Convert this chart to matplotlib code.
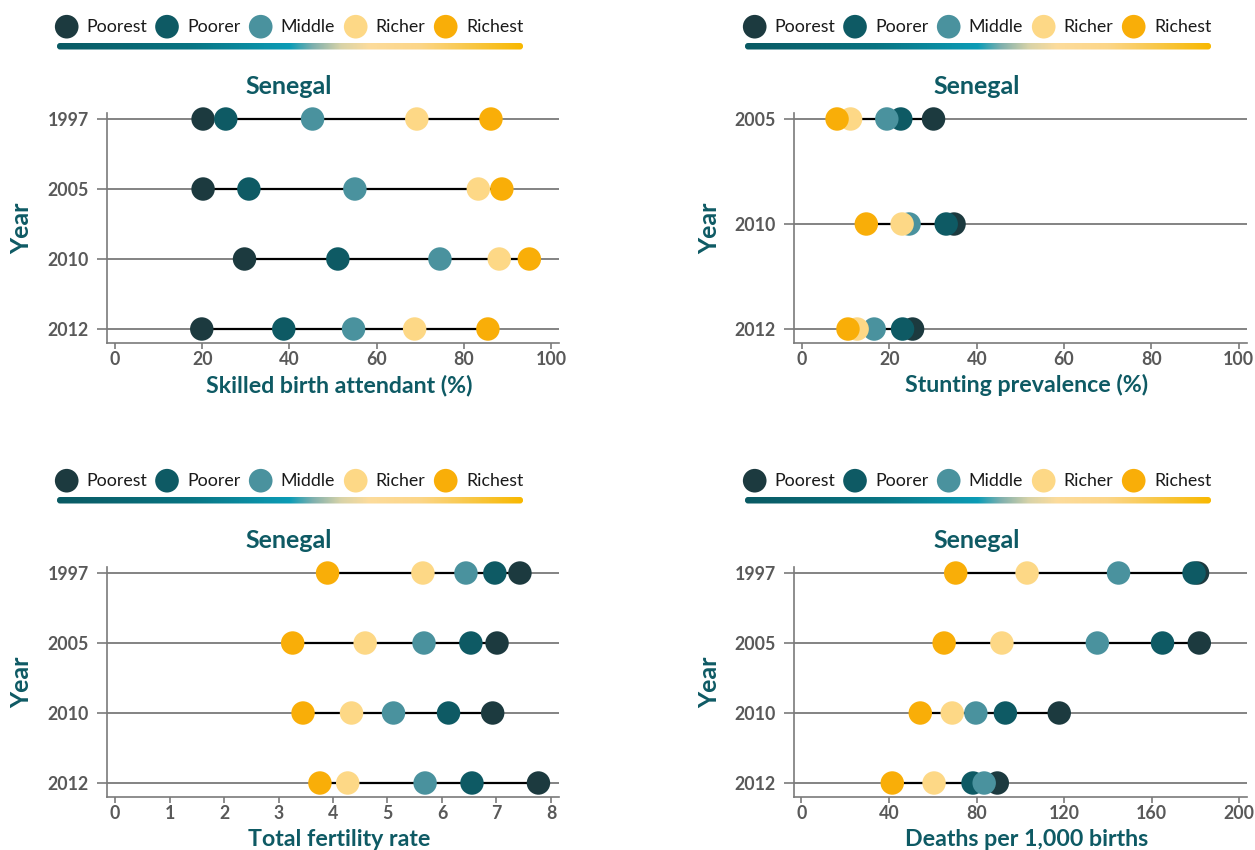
"""塞内加尔按财富五分位的哑铃点图（2x2 面板）。"""
import numpy as np
import matplotlib
matplotlib.use("Agg")
import matplotlib.pyplot as plt
from matplotlib.colors import LinearSegmentedColormap
from matplotlib.patches import FancyBboxPatch

plt.rcParams["font.family"] = ["Lato", "DejaVu Sans"]

W, H = 1255, 850
TEAL = "#0e5a64"
GREY = "#7a7a7a"
TICK_TEXT = "#595959"

QUINTILES = ["Poorest", "Poorer", "Middle", "Richer", "Richest"]
QUINTILE_COLORS = ["#1c3a3f", "#0e5a64", "#4a929e", "#fdd886", "#f9ae08"]

# 每行一个年份，列顺序同 QUINTILES
sba_years = ["1997", "2005", "2010", "2012"]
sba_values = [
    [20.2, 25.4, 45.3, 69.2, 86.2],
    [20.2, 30.7, 55.0, 83.3, 88.7],
    [29.7, 51.1, 74.5, 88.1, 95.0],
    [19.9, 38.7, 54.7, 68.7, 85.5],
]

stunt_years = ["2005", "2010", "2012"]
stunt_values = [
    [30.1, 22.6, 19.4, 11.1, 8.0],
    [34.8, 33.0, 24.5, 22.9, 14.7],
    [25.3, 23.0, 16.5, 12.6, 10.5],
]

tfr_years = ["1997", "2005", "2010", "2012"]
tfr_values = [
    [7.43, 6.97, 6.44, 5.65, 3.90],
    [7.01, 6.53, 5.67, 4.59, 3.26],
    [6.93, 6.12, 5.11, 4.34, 3.45],
    [7.77, 6.55, 5.69, 4.27, 3.76],
]

u5mr_years = ["1997", "2005", "2010", "2012"]
u5mr_values = [
    [181.0, 179.4, 144.9, 103.1, 70.5],
    [181.8, 165.0, 135.2, 91.6, 65.2],
    [117.8, 93.2, 79.7, 68.9, 54.3],
    [89.5, 78.4, 83.5, 60.6, 41.5],
]

GRADIENT = LinearSegmentedColormap.from_list("wealth", [
    (0.0, "#0a5a63"), (0.28, "#087482"), (0.5, "#0c9cb6"), (0.55, "#7fb0ae"),
    (0.61, "#d8d3a8"), (0.67, "#fcdc9c"), (0.78, "#fcd688"), (0.9, "#f8c640"),
    (1.0, "#f8b800"),
])


def px_axes(fig, left, top, right, bottom):
    return fig.add_axes([left / W, 1 - bottom / H, (right - left) / W, (bottom - top) / H])


def draw_panel(ax, years, values, xlim, xticks, ylim):
    ypos = np.arange(len(years))
    for y, row in zip(ypos, values):
        ax.axhline(y, color=GREY, lw=1.3, zorder=1)
        ax.plot([min(row), max(row)], [y, y], color="black", lw=1.6, zorder=2)
        for q, v in enumerate(row):
            ax.scatter(v, y, s=285, color=QUINTILE_COLORS[q], edgecolors="none",
                       zorder=3 + q, clip_on=False)
    ax.set_xlim(xlim)
    ax.set_ylim(ylim)
    ax.set_xticks(xticks)
    ax.set_yticks(ypos, years)
    for s in ("top", "right"):
        ax.spines[s].set_visible(False)
    for s in ("left", "bottom"):
        ax.spines[s].set_color(GREY)
        ax.spines[s].set_linewidth(1.2)
    ax.tick_params(axis="y", length=7, width=1.2, color=GREY, pad=6,
                   labelsize=12.8, labelcolor=TICK_TEXT)
    ax.tick_params(axis="x", length=4, width=1.2, color=GREY, pad=2,
                   labelsize=12.8, labelcolor=TICK_TEXT)
    for lab in ax.get_xticklabels() + ax.get_yticklabels():
        lab.set_fontweight("bold")
    ax.set_facecolor("none")


def draw_legend(ov, dx, dy):
    circ_x = [66.7, 167, 260.7, 355.7, 445.7]
    text_x = [86.7, 187, 280.7, 375.7, 466]
    for cx, tx, name, col in zip(circ_x, text_x, QUINTILES, QUINTILE_COLORS):
        ov.scatter(cx + dx, 26.7 + dy, s=290, color=col, edgecolors="none")
        ov.text(tx + dx, 27 + dy, name, ha="left", va="center", fontsize=12.8,
                color="#1a1a1a")
    x0, x1, y0, y1 = 57 + dx, 523 + dx, 43 + dy, 49.5 + dy
    grad = np.linspace(0, 1, 256)[None, :]
    im = ov.imshow(grad, extent=[x0, x1, y1, y0], aspect="auto", cmap=GRADIENT,
                   interpolation="bilinear")
    clip = FancyBboxPatch((x0, y0), x1 - x0, y1 - y0,
                          boxstyle="round,pad=0,rounding_size=3",
                          facecolor="none", edgecolor="none")
    ov.add_patch(clip)
    im.set_clip_path(clip)


fig = plt.figure(figsize=(W / 100, H / 100), dpi=100)

# 叠加层：图例、标题、坐标轴标题（像素坐标）
ov = fig.add_axes([0, 0, 1, 1])
ov.set_xlim(0, W)
ov.set_ylim(H, 0)
ov.axis("off")

panels = [
    # (年份, 数值, xlim, xticks, 像素框, ylim, x轴标题, 偏移)
    (sba_years, sba_values, (-1.83, 101.8), range(0, 101, 20), (107, 113, 559, 343),
     (3.2, -0.086), "Skilled birth attendant (%)", (0, 0)),
    (stunt_years, stunt_values, (-1.86, 101.9), range(0, 101, 20), (794, 113, 1247, 343),
     (2.133, -0.057), "Stunting prevalence (%)", (688, 0)),
    (tfr_years, tfr_values, (-0.147, 8.147), range(0, 9), (107, 567, 559, 797),
     (3.2, -0.086), "Total fertility rate", (0, 454)),
    (u5mr_years, u5mr_values, (-3.4, 203.6), range(0, 201, 40), (794, 567, 1247, 797),
     (3.2, -0.086), "Deaths per 1,000 births", (688, 454)),
]

for years, values, xlim, xticks, box, ylim, xlabel, (dx, dy) in panels:
    ax = px_axes(fig, *box)
    draw_panel(ax, years, values, xlim, list(xticks), ylim)
    draw_legend(ov, dx, dy)
    ov.text(289 + dx, 86 + dy, "Senegal", ha="center", va="center", fontsize=18,
            fontweight="bold", color=TEAL)
    ov.text(22 + dx, (box[1] + box[3]) / 2, "Year", ha="center", va="center",
            rotation=90, fontsize=18, fontweight="bold", color=TEAL)
    ov.text((box[0] + box[2]) / 2 + 6, 385 + dy, xlabel, ha="center", va="center",
            fontsize=16.7, fontweight="bold", color=TEAL)

ov.set_xlim(0, W)
ov.set_ylim(H, 0)

fig.savefig("out.png", dpi=100)
